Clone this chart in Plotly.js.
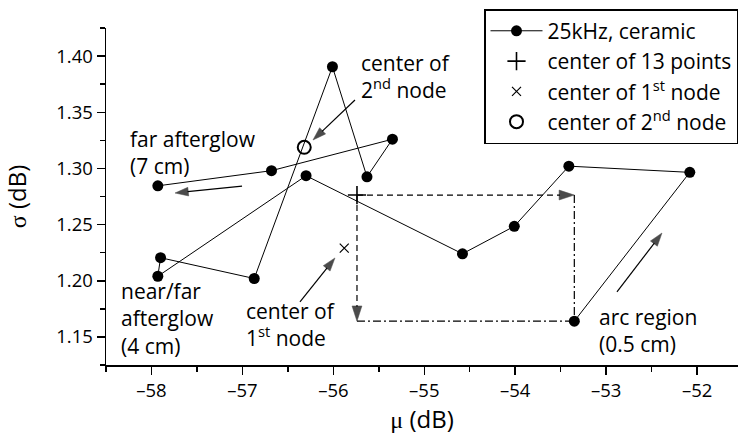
<!DOCTYPE html>
<html>
<head>
<meta charset="utf-8">
<script src="https://cdn.plot.ly/plotly-3.0.1.min.js"></script>
<style>html,body{margin:0;padding:0;background:#fff}</style>
</head>
<body>
<div id="chart" style="width:738px;height:435px"></div>
<script>
// 25 kHz ceramic: mean (mu) and spread (sigma) of the level, in order
// from the arc region (first point) out to the far afterglow (last point)
const muSeries    = [-53.35, -52.08, -53.41, -54.01, -54.58, -56.30, -57.93, -57.90, -56.87, -56.01, -55.63, -55.35, -56.68, -57.93];
const sigmaSeries = [1.164, 1.2965, 1.302, 1.2485, 1.224, 1.2935, 1.204, 1.2205, 1.202, 1.3905, 1.2925, 1.326, 1.298, 1.2845];

// centroids
const centerAllMu = [-55.74];
const centerAllSigma = [1.2763];
const node1Mu = [-55.88];
const node1Sigma = [1.229];
const node2Mu = [-56.32];
const node2Sigma = [1.3188];

// axis ticks
const xTickVals = [-58, -57, -56, -55, -54, -53, -52];
const xTickText = ['–58', '–57', '–56', '–55', '–54', '–53', '–52'];
const xMinorVals = [-58.5, -57.5, -56.5, -55.5, -54.5, -53.5, -52.5];
const yTickVals = [1.15, 1.20, 1.25, 1.30, 1.35, 1.40];
const yTickText = ['1.15', '1.20', '1.25', '1.30', '1.35', '1.40'];
const yMinorVals = [1.125, 1.175, 1.225, 1.275, 1.325, 1.375, 1.425];

const FONT = '"Open Sans", sans-serif';
const SERIF = "'Liberation Serif'";
const INK = '#000';

// callout text blocks (left edge, vertical middle)
const labels = [
  {text: 'far afterglow<br>(7 cm)', x: -58.258, y: 1.3146},
  {text: 'center of<br>2<sup>nd</sup> node', x: -55.718, y: 1.3814},
  {text: 'near/far<br>afterglow<br>(4 cm)', x: -58.357, y: 1.166},
  {text: 'center of<br>1<sup>st</sup> node', x: -56.982, y: 1.1615},
  {text: 'arc region<br>(0.5 cm)', x: -53.10, y: 1.1557}
];

// pointer arrows: tail -> tip
const pointers = [
  {from: [-55.762, 1.3609], to: [-56.224, 1.3253]},
  {from: [-57.004, 1.2843], to: [-57.741, 1.2781]},
  {from: [-56.367, 1.1811], to: [-55.982, 1.2203]},
  {from: [-52.881, 1.1900], to: [-52.386, 1.2425]}
];

const arcMu = muSeries[0];
const arcSigma = sigmaSeries[0];
const cMu = centerAllMu[0];
const cSigma = centerAllSigma[0];

const traces = [];

function arrowTrace(xs, ys, dash, headSize) {
  return {
    x: xs, y: ys, type: 'scatter', mode: 'lines+markers',
    line: {color: INK, width: 1.2, dash: dash},
    marker: {symbol: 'arrow', angleref: 'previous', size: [0, headSize], color: INK,
             line: {width: 0.5, color: INK}},
    showlegend: false, hoverinfo: 'skip'
  };
}
function plainTrace(xs, ys, dash) {
  return {
    x: xs, y: ys, type: 'scatter', mode: 'lines',
    line: {color: INK, width: 1.2, dash: dash},
    showlegend: false, hoverinfo: 'skip'
  };
}

// path from the overall centre to the arc-region point
traces.push(arrowTrace([cMu, arcMu], [cSigma, cSigma], '6px,4px', 16));
traces.push(arrowTrace([cMu, cMu], [cSigma, arcSigma], '6px,4px', 16));
traces.push(plainTrace([arcMu, arcMu], [cSigma, arcSigma], '8px,3px,2px,3px'));
traces.push(plainTrace([cMu, arcMu], [arcSigma, arcSigma], '8px,3px,2px,3px'));

pointers.forEach(p => {
  traces.push(arrowTrace([p.from[0], p.to[0]], [p.from[1], p.to[1]], 'solid', 14));
});

traces.push({
  x: muSeries, y: sigmaSeries, type: 'scatter', mode: 'lines+markers',
  name: '25kHz, ceramic', legendgroup: 'a',
  line: {color: INK, width: 1},
  marker: {symbol: 'circle', size: 11, color: INK}
});
traces.push({
  x: centerAllMu, y: centerAllSigma, type: 'scatter', mode: 'markers',
  name: 'center of 13 points', legendgroup: 'b',
  marker: {symbol: 'cross-thin', size: 13, color: INK, line: {color: INK, width: 1.6}}
});
traces.push({
  x: node1Mu, y: node1Sigma, type: 'scatter', mode: 'markers',
  name: 'center of 1<sup>st</sup> node', legendgroup: 'c',
  marker: {symbol: 'x-thin', size: 9, color: INK, line: {color: INK, width: 1.2}}
});
traces.push({
  x: node2Mu, y: node2Sigma, type: 'scatter', mode: 'markers',
  name: 'center of 2<sup>nd</sup> node', legendgroup: 'd',
  marker: {symbol: 'circle-open', size: 13, color: INK, line: {color: INK, width: 2}}
});

const axisBase = {
  showline: true, linecolor: INK, linewidth: 1.5,
  ticks: 'outside', ticklen: 8, tickwidth: 1.5, tickcolor: INK,
  showgrid: false, zeroline: false, automargin: false,
  tickfont: {family: FONT, size: 18.5, color: INK}
};

const layout = {
  width: 738, height: 435,
  margin: {l: 106, r: 0, t: 28, b: 70},
  paper_bgcolor: '#fff', plot_bgcolor: '#fff',
  font: {family: FONT, size: 21, color: INK},
  xaxis: Object.assign({}, axisBase, {
    range: [-58.5, -51.55],
    tickmode: 'array', tickvals: xTickVals, ticktext: xTickText,
    minor: {tickmode: 'array', tickvals: xMinorVals, ticks: 'outside', ticklen: 5, tickwidth: 1.5, tickcolor: INK},
    title: {text: '<span style="font-family:' + SERIF + '">μ</span> (dB)', font: {family: FONT, size: 24, color: INK}, standoff: 1}
  }),
  yaxis: Object.assign({}, axisBase, {
    range: [1.125, 1.425],
    tickmode: 'array', tickvals: yTickVals, ticktext: yTickText,
    minor: {tickmode: 'array', tickvals: yMinorVals, ticks: 'outside', ticklen: 5, tickwidth: 1.5, tickcolor: INK},
    title: {text: '<span style="font-family:' + SERIF + '">σ</span> (dB)', font: {family: FONT, size: 24, color: INK}, standoff: 24}
  }),
  legend: {
    x: 1, xanchor: 'right', y: 1.056, yanchor: 'top',
    bgcolor: '#fff', bordercolor: INK, borderwidth: 1.5,
    font: {family: FONT, size: 21, color: INK},
    itemwidth: 52, tracegroupgap: 0
  },
  annotations: labels.map(l => ({
    text: l.text, x: l.x, y: l.y, xref: 'x', yref: 'y',
    xanchor: 'left', yanchor: 'middle', align: 'left', showarrow: false,
    font: {family: FONT, size: 21, color: INK}
  })),
  showlegend: true
};

Plotly.newPlot('chart', traces, layout, {displayModeBar: false, staticPlot: true});
</script>
</body>
</html>
